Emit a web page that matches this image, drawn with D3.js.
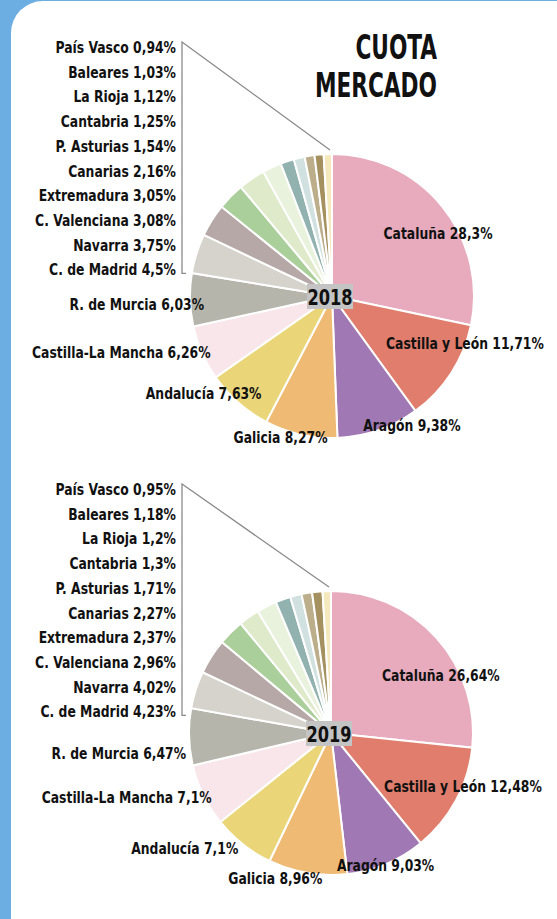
<!DOCTYPE html>
<html>
<head>
<meta charset="utf-8">
<script src="https://cdn.jsdelivr.net/npm/d3@7"></script>
<style>
  body { margin: 0; background: #6daee2; }
  svg { display: block; }
  text { font-family: "Liberation Sans Narrow", "DejaVu Sans Condensed", "Noto Sans", sans-serif; font-weight: bold; fill: #111; }
  .slice { stroke: #fff; stroke-width: 2; }
  .bracket { fill: none; stroke: #8a8a8a; stroke-width: 1.3; }
</style>
</head>
<body>
<svg id="chart" width="557" height="919"></svg>
<script>
// regions in clockwise order from 12 o'clock
const regions = [
  "Cataluña", "Castilla y León", "Aragón", "Galicia", "Andalucía",
  "Castilla-La Mancha", "R. de Murcia", "C. de Madrid", "Navarra",
  "C. Valenciana", "Extremadura", "Canarias", "P. Asturias", "Cantabria",
  "La Rioja", "Baleares", "País Vasco"
];
const share2018 = [28.3, 11.71, 9.38, 8.27, 7.63, 6.26, 6.03, 4.5, 3.75, 3.08, 3.05, 2.16, 1.54, 1.25, 1.12, 1.03, 0.94];
const share2019 = [26.64, 12.48, 9.03, 8.96, 7.1, 7.1, 6.47, 4.23, 4.02, 2.96, 2.37, 2.27, 1.71, 1.3, 1.2, 1.18, 0.95];
const colors = [
  "#e8aabd", "#e07d6c", "#a078b3", "#efba73", "#ead678",
  "#f8e6ea", "#b5b5ab", "#d6d3cd", "#b5a8a6", "#abcf9b",
  "#dfeacb", "#e9f2dd", "#91b2af", "#d0e1e0", "#bcae8b",
  "#a59060", "#f5e8bd"
];
const titleLines = ["CUOTA", "MERCADO"];

const svg = d3.select("#chart");
const width = +svg.attr("width");
const height = +svg.attr("height");

// the condensed font we have is wider than the original one
const squeeze = 0.86;
const place = (x, y, s = squeeze) => `translate(${x},${y}) scale(${s},1)`;

// white card
svg.append("rect")
  .attr("x", 11).attr("y", 1)
  .attr("width", width + 30).attr("height", height + 30)
  .attr("rx", 32)
  .attr("fill", "#fff");

//Title
svg.append("g")
  .selectAll("text")
  .data(titleLines)
  .join("text")
  .attr("transform", (d, i) => place(437, 59 + i * 38, 0.73))
  .attr("text-anchor", "end")
  .style("font-size", "33px")
  .text((d) => d);

const fmt = (v) => String(v).replace(".", ",") + "%";

function drawPie(values, opts) {
  const { cx, cy, r, listTop, nudges } = opts;
  const g = svg.append("g").attr("transform", `translate(${cx},${cy})`);

  const pie = d3.pie().sort(null).value((d) => d);
  const arcs = pie(values);
  const arc = d3.arc().innerRadius(0).outerRadius(r);
  const labelArc = d3.arc().innerRadius(125).outerRadius(125);

  //Slices
  g.selectAll("path")
    .data(arcs)
    .join("path")
    .classed("slice", true)
    .attr("fill", (d, i) => colors[i])
    .attr("d", arc);

  //Labels for the big slices
  const anchors = ["middle", "middle", "middle", "middle", "end", "end", "end"];
  g.selectAll("text.big")
    .data(arcs.slice(0, 7))
    .join("text")
    .classed("big", true)
    .attr("text-anchor", (d, i) => anchors[i])
    .attr("transform", (d, i) => {
      const [x, y] = labelArc.centroid(d);
      return place(x + nudges[i][0], y + nudges[i][1] + 6);
    })
    .style("font-size", "16px")
    .text((d, i) => `${regions[i]} ${fmt(values[i])}`);

  //List of the small slices, top to bottom
  const small = d3.range(7, regions.length).reverse();
  const step = 24.7;
  const listX = 176 - cx;
  g.selectAll("text.small")
    .data(small)
    .join("text")
    .classed("small", true)
    .attr("text-anchor", "end")
    .attr("transform", (d, i) => place(listX, listTop + i * step + 6))
    .style("font-size", "16px")
    .text((i) => `${regions[i]} ${fmt(values[i])}`);

  //Bracket
  const bx = listX + 6;
  const top = listTop - 5;
  const bottom = listTop + (small.length - 1) * step + 4;
  g.append("path")
    .classed("bracket", true)
    .attr("d", d3.line()([[-2, -r - 4], [bx, top], [bx, bottom], [bx + 4, bottom]]));

  //Year box
  const yb = g.append("g");
  yb.append("rect")
    .attr("x", -25).attr("y", -12)
    .attr("width", 46).attr("height", 25)
    .attr("fill", "#c4c4c4");
  yb.append("text")
    .attr("transform", place(-2, 8.5, 0.82))
    .attr("text-anchor", "middle")
    .style("font-size", "22px")
    .text(opts.year);
}

drawPie(share2018, {
  year: "2018", cx: 332, cy: 296, r: 142, listTop: 47 - 296,
  nudges: [[9, 16], [28, -21], [39, 11], [-24, 19], [12, 3], [-7, 6], [-3, 5]]
});
drawPie(share2019, {
  year: "2019", cx: 331, cy: 733, r: 142, listTop: 489 - 733,
  nudges: [[17, 26], [22, -6], [6, 17], [-35, 22], [-15, 17], [-7, 9], [-20, 17]]
});
</script>
</body>
</html>
